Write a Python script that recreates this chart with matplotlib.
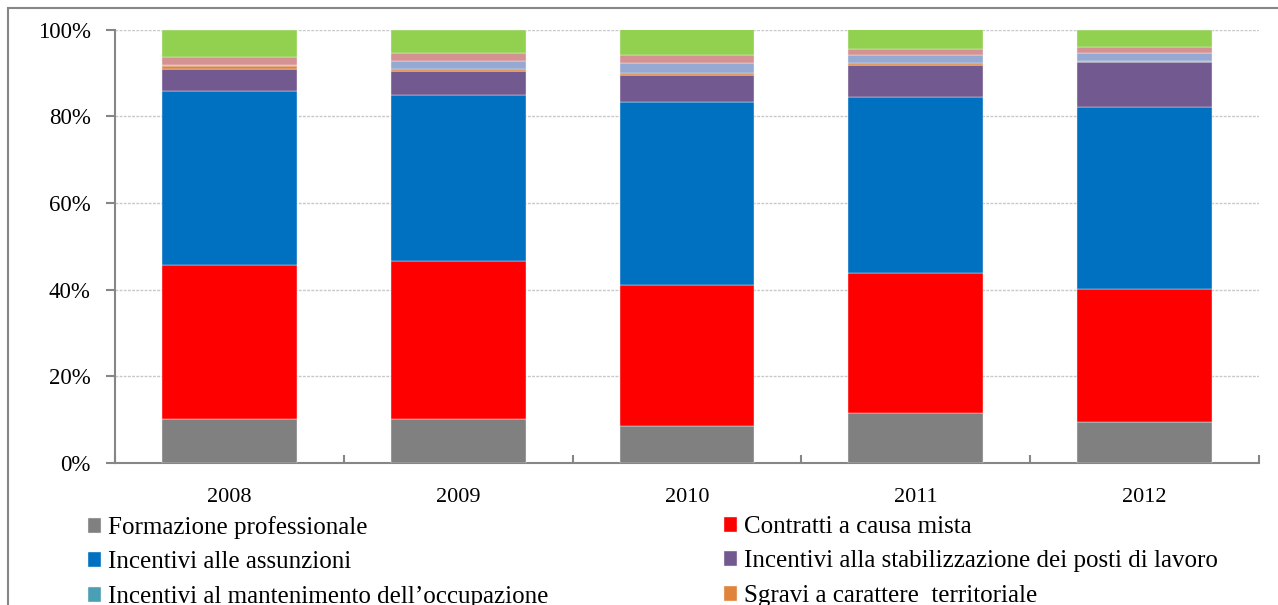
import matplotlib
matplotlib.use("Agg")
import matplotlib.pyplot as plt
import matplotlib.patches as mpatches
import numpy as np

plt.rcParams["font.family"] = ["Liberation Serif", "DejaVu Serif"]

# anni e quote percentuali (composizione della spesa)
years = ["2008", "2009", "2010", "2011", "2012"]

formazione = [10.2, 10.2, 8.5, 11.6, 9.4]
contratti = [35.4, 36.3, 32.5, 32.2, 30.7]
assunzioni = [40.25, 38.4, 42.2, 40.7, 42.1]
stabilizzazione = [5.05, 5.5, 6.3, 7.3, 10.3]
mantenimento = [0.1, 0.1, 0.1, 0.1, 0.1]
sgravi = [0.5, 0.4, 0.4, 0.4, 0.2]
altro_1 = [0.3, 1.8, 2.2, 1.8, 1.75]
altro_2 = [1.8, 1.85, 1.9, 1.4, 1.35]
altro_3 = [6.4, 5.45, 5.9, 4.5, 4.1]

series = [
    (formazione, "#808080", "Formazione professionale"),
    (contratti, "#FF0000", "Contratti a causa mista"),
    (assunzioni, "#0070C0", "Incentivi alle assunzioni"),
    (stabilizzazione, "#72598F", "Incentivi alla stabilizzazione dei posti di lavoro"),
    (mantenimento, "#4A9FB5", "Incentivi al mantenimento dell\u2019occupazione"),
    (sgravi, "#E0843C", "Sgravi a carattere  territoriale"),
    (altro_1, "#95A9D3", None),
    (altro_2, "#D49292", None),
    (altro_3, "#92D050", None),
]

fig = plt.figure(figsize=(12.78, 6.05), dpi=100)
ax = fig.add_axes([115 / 1278, 1 - 463 / 605, (1259 - 115) / 1278, (463 - 29.5) / 605])

x = np.arange(len(years))
bottom = np.zeros(len(years))
handles = {}
for vals, col, lab in series:
    b = ax.bar(x, vals, 0.59, bottom=bottom, color=col, edgecolor="#F2F2F2",
               linewidth=0.3, zorder=3)
    bottom += np.array(vals)
    if lab:
        handles[lab] = b

ax.set_xlim(-0.5, len(years) - 0.5)
ax.set_ylim(0, 100)
ax.set_yticks(np.arange(0, 101, 20))
ax.set_yticklabels([f"{v}%" for v in range(0, 101, 20)], fontsize=16.5)
ax.set_xticks(x)
ax.set_xticklabels(years, fontsize=16)
ax.set_xticks(np.arange(-0.5, len(years)), minor=True)
ax.tick_params(axis="x", which="major", length=0, pad=18)
ax.tick_params(axis="x", which="minor", direction="in", length=5.5, color="#868686", width=1.5)
ax.tick_params(axis="y", direction="out", length=6.5, pad=11, color="#868686", width=1.5)

ax.grid(axis="y", linestyle=(0, (2, 1)), color="#C8C8C8", linewidth=1, zorder=0)
for s in ["top", "right"]:
    ax.spines[s].set_visible(False)
for s in ["left", "bottom"]:
    ax.spines[s].set_color("#868686")
    ax.spines[s].set_linewidth(1.5)

# legenda su due colonne
labels = [lab for _, _, lab in series if lab]
col1 = labels[0::2]
col2 = labels[1::2]
common = dict(frameon=False, fontsize=18, handlelength=0.5, handleheight=0.55,
              handletextpad=0.3, labelspacing=0.5, borderpad=0, borderaxespad=0)
leg1 = fig.legend([handles[l] for l in col1], col1, loc="upper left",
                  bbox_to_anchor=(88 / 1278, 1 - 516 / 605), **common)
leg2 = fig.legend([handles[l] for l in col2], col2, loc="upper left",
                  bbox_to_anchor=(724 / 1278, 1 - 516 / 605), **common)

# cornice dell'area del grafico
fig.patches.append(mpatches.Rectangle((8 / 1278, -0.5), 2, 1.5 - 8 / 605,
                                      transform=fig.transFigure, fill=False,
                                      edgecolor="#868686", linewidth=1.5))

plt.savefig("out.png", dpi=100)
